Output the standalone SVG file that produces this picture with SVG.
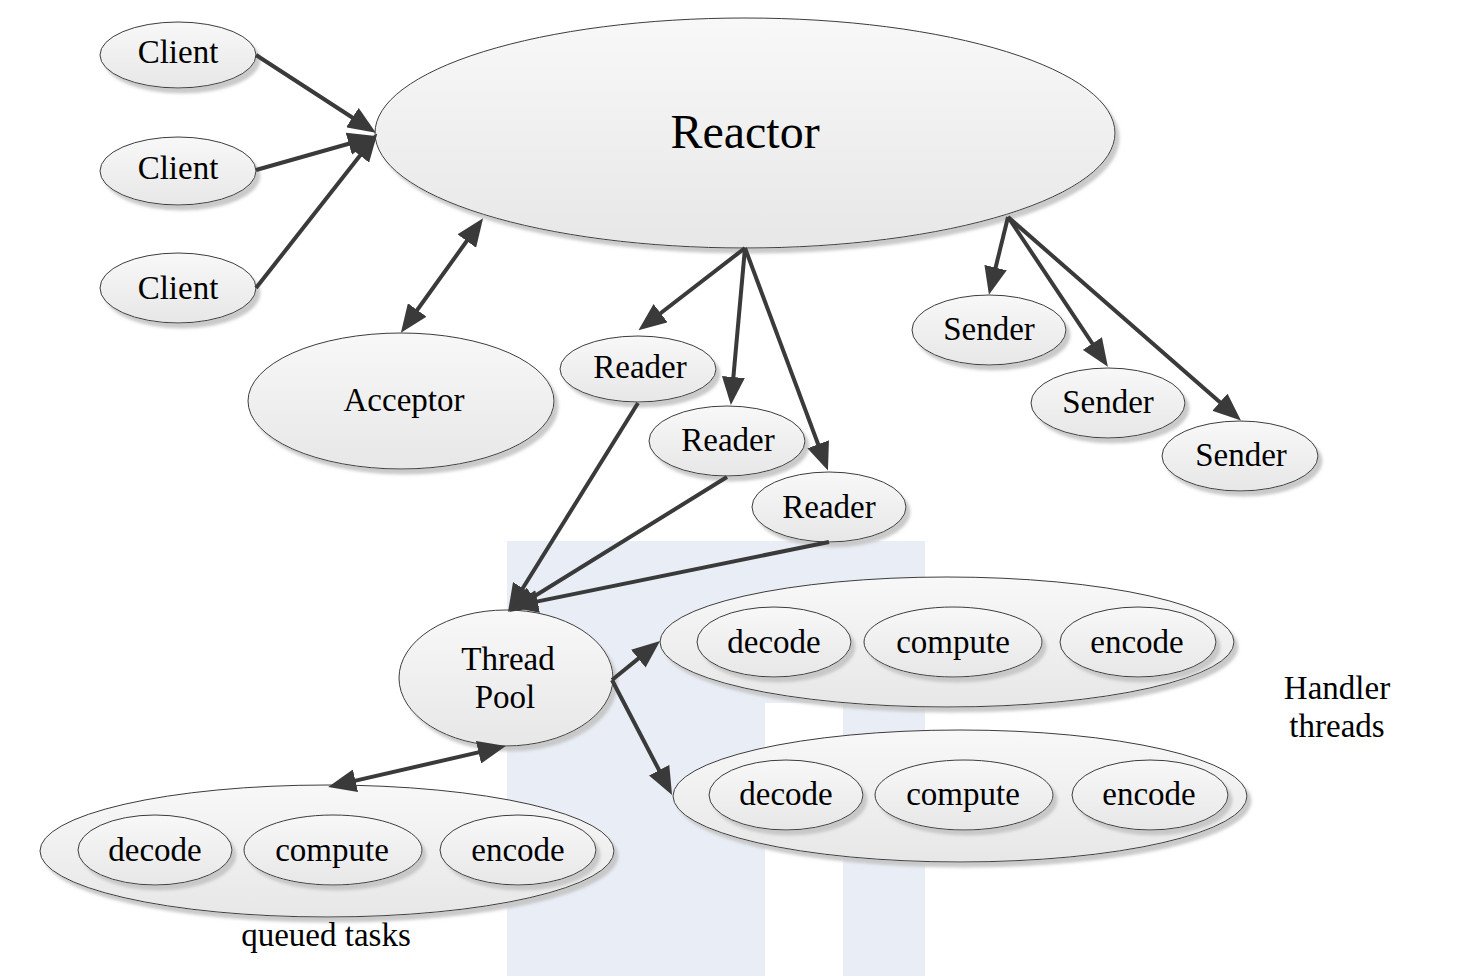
<svg xmlns="http://www.w3.org/2000/svg" width="1478" height="976" viewBox="0 0 1478 976">
<style>
.n{fill:url(#g);stroke:#3c3c3c;stroke-width:1;filter:url(#ds)}
.t{font-family:"Liberation Serif","Times New Roman",serif;font-size:33px;fill:#000;text-anchor:middle}
.c{stroke:#3a3a3a;stroke-width:4;fill:none;marker-end:url(#ah)}
.d{marker-start:url(#ah)}
</style>
<defs>
<linearGradient id="g" x1="0" y1="0" x2="0" y2="1">
<stop offset="0" stop-color="#f8f8f8"/>
<stop offset="1" stop-color="#e7e7e7"/>
</linearGradient>
<filter id="ds" x="-10%" y="-10%" width="125%" height="130%">
<feDropShadow dx="4" dy="5" stdDeviation="1.5" flood-color="#c4c4c4" flood-opacity="0.9"/>
</filter>
<marker id="ah" viewBox="0 0 28 23" markerWidth="28" markerHeight="23" refX="21" refY="11.5" orient="auto-start-reverse" markerUnits="userSpaceOnUse">
<path d="M0,0 L28,11.5 L0,23 Z" fill="#3a3a3a"/>
</marker>
</defs>
<rect width="1478" height="976" fill="#fff"/>
<path d="M507,541 H925 V976 H843 V703 H765 V976 H507 Z" fill="#e9eef6"/>

<g id="reactor"><ellipse class="n" cx="745" cy="133" rx="370" ry="115"/><text class="t" x="745" y="148" style="font-size:48px">Reactor</text></g>
<g id="client1"><ellipse class="n" cx="178" cy="55" rx="78" ry="33"/><text class="t" x="178" y="63">Client</text></g>
<g id="client2"><ellipse class="n" cx="178" cy="171" rx="78" ry="34"/><text class="t" x="178" y="179">Client</text></g>
<g id="client3"><ellipse class="n" cx="178" cy="288" rx="78" ry="35"/><text class="t" x="178" y="299">Client</text></g>
<g id="acceptor"><ellipse class="n" cx="401" cy="401" rx="153" ry="68"/><text class="t" x="404" y="411">Acceptor</text></g>
<g id="reader1"><ellipse class="n" cx="638" cy="369" rx="78" ry="33"/><text class="t" x="640" y="378">Reader</text></g>
<g id="reader2"><ellipse class="n" cx="727" cy="441" rx="78" ry="35"/><text class="t" x="728" y="451">Reader</text></g>
<g id="reader3"><ellipse class="n" cx="829" cy="507" rx="77" ry="35"/><text class="t" x="829" y="518">Reader</text></g>
<g id="sender1"><ellipse class="n" cx="989" cy="330" rx="77" ry="35"/><text class="t" x="989" y="340">Sender</text></g>
<g id="sender2"><ellipse class="n" cx="1108" cy="403" rx="77" ry="35"/><text class="t" x="1108" y="413">Sender</text></g>
<g id="sender3"><ellipse class="n" cx="1240" cy="456" rx="78" ry="35"/><text class="t" x="1241" y="466">Sender</text></g>
<g id="threadpool"><ellipse class="n" cx="506" cy="678" rx="107" ry="68"/><text class="t" x="508" y="670">Thread</text><text class="t" x="505" y="708">Pool</text></g>

<g id="handler1">
<ellipse class="n" cx="947" cy="642" rx="287" ry="65"/>
<ellipse class="n" cx="774" cy="642" rx="77" ry="35"/><text class="t" x="774" y="653">decode</text>
<ellipse class="n" cx="953" cy="642" rx="89" ry="35"/><text class="t" x="953" y="653">compute</text>
<ellipse class="n" cx="1138" cy="642" rx="78" ry="35"/><text class="t" x="1137" y="653">encode</text>
</g>
<g id="handler2">
<ellipse class="n" cx="960" cy="796" rx="287" ry="66"/>
<ellipse class="n" cx="786" cy="795" rx="77" ry="35"/><text class="t" x="786" y="805">decode</text>
<ellipse class="n" cx="964" cy="795" rx="89" ry="35"/><text class="t" x="963" y="805">compute</text>
<ellipse class="n" cx="1150" cy="795" rx="78" ry="35"/><text class="t" x="1149" y="805">encode</text>
</g>
<g id="queued">
<ellipse class="n" cx="327" cy="851" rx="287" ry="66"/>
<ellipse class="n" cx="155" cy="850" rx="77" ry="35"/><text class="t" x="155" y="861">decode</text>
<ellipse class="n" cx="333" cy="850" rx="89" ry="35"/><text class="t" x="332" y="861">compute</text>
<ellipse class="n" cx="518" cy="850" rx="78" ry="35"/><text class="t" x="518" y="861">encode</text>
</g>
<g id="labels">
<text class="t" x="1337" y="699">Handler</text>
<text class="t" x="1337" y="737">threads</text>
<text class="t" x="326" y="946">queued tasks</text>
</g>

<g id="connectors">
<line class="c" x1="256" y1="55" x2="370" y2="129"/>
<line class="c" x1="256" y1="170" x2="369" y2="138"/>
<line class="c" x1="256" y1="288" x2="373" y2="139"/>
<line class="c d" x1="405" y1="327" x2="479" y2="224"/>
<line class="c" x1="745" y1="248" x2="644" y2="326"/>
<line class="c" x1="745" y1="248" x2="731.5" y2="398"/>
<line class="c" x1="745" y1="248" x2="825.5" y2="464"/>
<line class="c" x1="1008" y1="217" x2="990.6" y2="288"/>
<line class="c" x1="1008" y1="217" x2="1104" y2="361"/>
<line class="c" x1="1008" y1="217" x2="1235.7" y2="416"/>
<line class="c" x1="638" y1="403" x2="511.7" y2="606"/>
<line class="c" x1="727" y1="477" x2="515" y2="608.3"/>
<line class="c" x1="829" y1="542" x2="517" y2="605.6"/>
<line class="c" x1="612" y1="680" x2="654.6" y2="645.4"/>
<line class="c" x1="612" y1="680" x2="668.8" y2="788.8"/>
<line class="c d" x1="499" y1="747.6" x2="335" y2="785.4"/>
</g>
</svg>
